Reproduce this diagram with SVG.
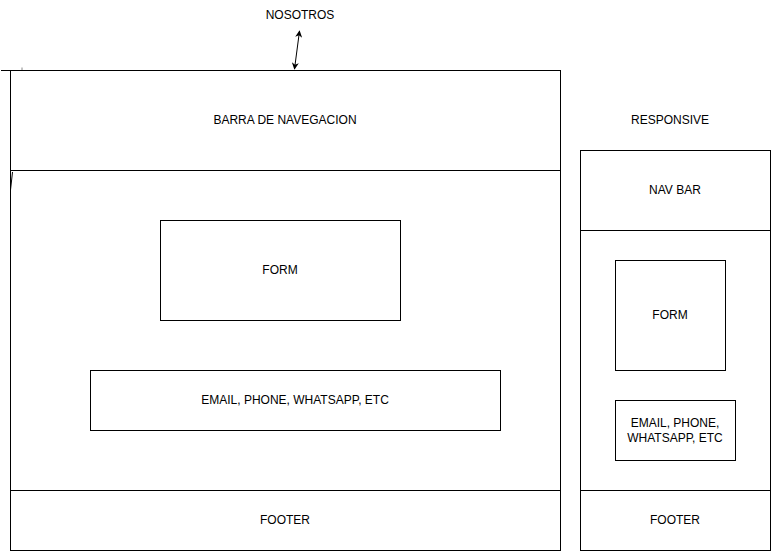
<svg xmlns="http://www.w3.org/2000/svg" width="773" height="552" viewBox="0 0 773 552">
<defs>
<marker id="ah" viewBox="0 0 10 10" refX="9" refY="5" markerWidth="7" markerHeight="7" orient="auto-start-reverse" markerUnits="userSpaceOnUse">
<path d="M0,0 L10,5 L0,10 L3,5 Z" fill="#000"/>
</marker>
</defs>
<style>
.box{fill:#fff;stroke:#000;stroke-width:1}
.t{font-family:"Liberation Sans",Arial,sans-serif;font-size:12px;fill:#000;text-anchor:middle;dominant-baseline:central}
.ln{stroke:#000;stroke-width:1;fill:none}
</style>
<rect width="773" height="552" fill="#fff"/>
<g id="nosotros"><text class="t" x="300" y="15">NOSOTROS</text></g>
<g id="responsive-label"><text class="t" x="670" y="120">RESPONSIVE</text></g>
<g id="navbar"><rect class="box" x="10.5" y="70.5" width="550" height="100"/><text class="t" x="285" y="120">BARRA DE NAVEGACION</text></g>
<g id="body"><rect class="box" x="10.5" y="170.5" width="550" height="320"/></g>
<g id="form"><rect class="box" x="160.5" y="220.5" width="240" height="100"/><text class="t" x="280" y="270">FORM</text></g>
<g id="contact"><rect class="box" x="90.5" y="370.5" width="410" height="60"/><text class="t" x="295" y="400">EMAIL, PHONE, WHATSAPP, ETC</text></g>
<g id="footer"><rect class="box" x="10.5" y="490.5" width="550" height="60"/><text class="t" x="285" y="520">FOOTER</text></g>
<g id="r-navbar"><rect class="box" x="580.5" y="150.5" width="190" height="80"/><text class="t" x="675" y="190">NAV BAR</text></g>
<g id="r-body"><rect class="box" x="580.5" y="230.5" width="190" height="260"/></g>
<g id="r-form"><rect class="box" x="615.5" y="260.5" width="110" height="110"/><text class="t" x="670" y="315">FORM</text></g>
<g id="r-contact"><rect class="box" x="615.5" y="400.5" width="120" height="60"/><text class="t" x="675" y="423">EMAIL, PHONE,</text><text class="t" x="675" y="438">WHATSAPP, ETC</text></g>
<g id="r-footer"><rect class="box" x="580.5" y="490.5" width="190" height="60"/><text class="t" x="675" y="520">FOOTER</text></g>
<g id="connectors">
<line class="ln" x1="299.5" y1="31" x2="294.5" y2="69" marker-start="url(#ah)" marker-end="url(#ah)"/>
<line class="ln" x1="1" y1="70.5" x2="10" y2="70.5"/>
<line x1="22" y1="67.5" x2="22" y2="70" stroke="#888" stroke-width="1"/>
<line class="ln" x1="12.5" y1="172" x2="10.5" y2="190"/>
</g>
</svg>
